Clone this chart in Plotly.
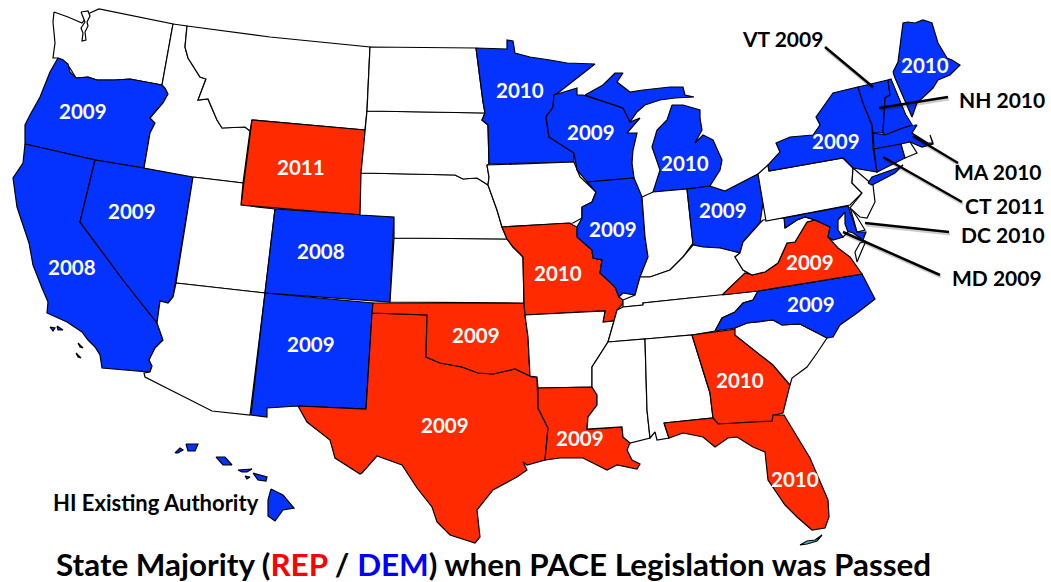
import plotly.graph_objects as go

BLUE = "#0433FF"
RED = "#FF2A00"
WHITE = "#FFFFFF"

WA = [(54,12),(68,17),(82,23),(90,13),(99,9),(173,24),(162,85),(130,79),(115,80),(97,80),(88,77),(76,78),(70,68),(63,60),(58,58),(53,58),(55,43),(53,22)]
PUGET = [(81,12),(88,11),(90,16),(87,22),(88,26),(85,32),(86,40),(82,41),(83,33),(81,28),(85,22),(83,17)]
OR = [(58,58),(63,60),(68,64),(70,72),(76,78),(88,77),(97,80),(115,80),(130,79),(162,85),(165,88),(168,94),(163,103),(150,118),(155,123),(150,133),(144,168),(95,160),(25,144),(25,125),(30,115),(40,97),(50,72)]
CA = [(25,144),(95,160),(80,222),(123,280),(157,323),(163,340),(155,348),(149,360),(152,366),(150,372),(102,368),(100,355),(95,347),(88,340),(82,332),(67,322),(47,313),(48,302),(42,288),(33,265),(29,243),(17,207),(13,178),(23,163)]
NV = [(95,160),(144,168),(193,177),(176,283),(173,297),(168,303),(160,301),(157,323),(123,280),(80,222)]
ID = [(173,24),(187,26),(185,47),(188,58),(200,77),(206,79),(198,100),(208,99),(217,120),(222,128),(245,127),(250,131),(243,183),(193,177),(144,168),(150,133),(155,123),(150,118),(163,103),(168,94),(165,88),(162,85)]
MT = [(187,26),(270,37),(370,47),(367,110),(365,130),(252,120),(250,131),(245,127),(222,128),(217,120),(208,99),(198,100),(206,79),(200,77),(188,58),(185,47)]
WY = [(252,120),(365,130),(360,215),(241,205)]
UT = [(193,177),(243,183),(241,205),(275,209),(265,293),(176,283)]
CO = [(275,209),(360,215),(394,217),(390,302),(265,293)]
AZ = [(176,283),(265,293),(250,415),(212,411),(145,377),(144,373),(150,372),(152,366),(149,360),(155,348),(163,340),(157,323),(160,301),(168,303),(173,297)]
NM = [(265,293),(373,303),(366,409),(298,406),(267,408),(267,417),(251,415)]
TX = [(298,406),(366,409),(372,313),(427,315),(426,357),(440,363),(462,367),(478,373),(493,374),(515,369),(532,377),(537,377),(538,408),(548,428),(545,460),(527,465),(523,462),(527,470),(517,477),(493,490),(477,510),(480,537),(475,543),(450,535),(437,522),(432,507),(417,488),(402,465),(377,456),(362,473),(360,474),(335,458),(330,440),(307,422)]
OK = [(373,303),(524,303),(525,315),(528,337),(530,376),(515,369),(493,374),(478,373),(462,367),(440,363),(426,357),(427,315),(372,313)]
KS = [(394,238),(507,239),(513,247),(523,257),(524,303),(390,302)]
NE = [(361,173),(455,175),(463,179),(477,178),(488,185),(497,210),(502,227),(507,239),(394,238),(394,217),(360,215)]
SD = [(367,111),(485,113),(482,120),(488,125),(489,164),(487,165),(489,177),(488,185),(477,178),(463,179),(455,175),(361,173)]
ND = [(370,47),(476,48),(483,102),(485,113),(367,111)]
MN = [(476,48),(507,49),(507,40),(513,41),(515,53),(530,57),(550,60),(567,63),(595,64),(558,93),(554,95),(553,107),(546,117),(549,137),(574,153),(574,162),(489,164),(488,125),(482,120),(485,113),(483,102)]
IA = [(487,165),(574,162),(580,177),(596,192),(592,202),(582,207),(582,218),(573,223),(502,227),(497,210),(488,185),(489,177)]
MO = [(502,227),(569,223),(577,227),(577,237),(592,250),(593,258),(602,260),(600,273),(615,287),(619,297),(623,300),(622,305),(617,310),(614,321),(603,322),(605,311),(525,315),(524,303),(523,257),(513,247),(507,239)]
AR = [(525,315),(605,311),(603,322),(614,321),(608,342),(600,355),(592,367),(592,387),(538,388),(537,377),(530,376),(528,337)]
LA = [(538,388),(592,387),(597,395),(597,405),(588,417),(587,429),(622,427),(623,437),(630,443),(627,450),(632,460),(640,464),(637,469),(617,465),(607,470),(593,463),(583,458),(560,458),(545,460),(548,428),(538,408)]
WI = [(554,95),(577,88),(577,95),(583,95),(623,108),(630,122),(640,118),(627,133),(637,133),(633,150),(632,163),(634,178),(587,182),(577,170),(574,153),(549,137),(546,117),(553,107)]
MI_UP = [(585,95),(603,85),(615,73),(623,73),(617,82),(630,92),(643,90),(670,87),(683,87),(685,95),(694,97),(675,98),(660,100),(645,105),(637,112),(630,122),(623,108)]
MI_LP = [(672,105),(683,105),(700,110),(700,118),(702,130),(695,143),(703,135),(713,140),(722,160),(720,170),(710,186),(687,189),(653,192),(660,170),(652,147),(657,130),(667,120)]
IL = [(587,182),(634,178),(642,197),(645,237),(648,257),(640,277),(635,295),(623,293),(619,297),(615,287),(600,273),(602,260),(593,258),(592,250),(577,237),(577,227),(582,218),(582,207),(592,202),(596,192)]
IN = [(642,197),(653,192),(687,189),(693,243),(683,257),(670,270),(650,277),(640,277),(648,257),(645,237)]
OH = [(687,189),(710,186),(725,191),(758,174),(763,203),(760,223),(743,242),(740,253),(720,248),(703,247),(693,245)]
KY = [(623,300),(635,295),(640,277),(650,277),(670,270),(683,257),(693,245),(703,247),(720,248),(740,253),(735,257),(743,270),(752,275),(723,295),(690,298),(643,303),(643,305),(623,307)]
TN = [(617,310),(623,307),(643,305),(643,303),(690,298),(722,295),(758,291),(753,300),(743,303),(735,312),(722,318),(715,331),(692,335),(645,339),(608,342),(614,321)]
MS = [(608,342),(645,339),(647,410),(650,438),(630,443),(623,437),(622,427),(587,429),(588,417),(597,405),(597,395),(592,387),(592,367),(600,355)]
AL = [(645,339),(692,335),(710,393),(713,418),(664,423),(669,438),(657,440),(655,432),(650,438),(647,410)]
GA = [(692,335),(737,329),(735,335),(773,365),(790,385),(783,413),(775,415),(772,423),(718,424),(713,418),(710,393)]
FL = [(664,423),(713,418),(718,424),(772,421),(773,415),(784,415),(810,458),(828,500),(829,517),(825,528),(812,530),(797,517),(785,505),(768,480),(765,452),(753,447),(737,437),(728,438),(715,447),(703,437),(683,433),(669,438)]
KEYS = [(800,545),(807,541),(815,540),(822,535),(817,541),(807,544)]
SC = [(735,328),(747,323),(773,320),(782,325),(800,324),(827,338),(817,353),(807,367),(792,378),(790,385),(773,365),(735,335)]
NC = [(715,331),(722,318),(735,312),(743,303),(753,300),(758,291),(862,274),(875,299),(857,313),(840,325),(833,337),(827,338),(800,324),(782,325),(773,320),(747,323),(735,328)]
VA = [(722,295),(758,291),(862,274),(850,257),(838,248),(828,237),(830,227),(815,220),(807,222),(795,242),(787,243),(778,263),(765,272),(752,275),(745,273)]
WV = [(763,220),(785,218),(785,228),(797,220),(805,217),(815,220),(807,222),(795,242),(787,243),(778,263),(765,272),(752,275),(743,270),(735,257),(740,253),(743,242),(760,223)]
PA = [(758,174),(768,165),(769,171),(843,158),(853,168),(852,183),(862,193),(850,205),(766,221),(763,203)]
MD = [(784,218),(848,206),(857,232),(866,232),(863,240),(853,233),(843,230),(843,237),(833,240),(828,237),(830,227),(815,220),(805,217),(797,220),(785,228)]
BAY = [(845,212),(838,220),(838,230),(843,237),(848,232),(845,224)]
DE = [(850,207),(857,217),(865,230),(857,232)]
VA_SHORE = [(866,241),(860,243),(855,252),(857,262),(862,250)]
NJ = [(853,168),(873,185),(875,202),(867,218),(860,217),(850,208),(862,193),(852,183)]
NY = [(769,171),(768,165),(780,152),(776,143),(790,137),(813,135),(820,125),(816,117),(833,93),(858,87),(863,103),(872,125),(873,148),(877,172),(853,168),(843,158)]
LI = [(868,183),(872,177),(900,167),(903,165),(895,173),(872,185)]
VT = [(858,87),(888,80),(889,87),(890,95),(885,98),(884,115),(883,133),(873,133),(872,125),(863,103)]
NH = [(888,80),(891,79),(906,115),(913,125),(903,128),(885,135),(883,133),(884,115),(885,98),(890,95),(889,87)]
ME = [(893,72),(898,62),(903,23),(908,22),(915,23),(923,20),(932,23),(938,43),(947,58),(952,60),(960,65),(950,75),(938,80),(933,88),(917,103),(912,117),(895,78)]
MA = [(873,133),(885,135),(903,128),(913,125),(917,125),(912,133),(928,143),(933,143),(930,135),(933,144),(922,147),(910,142),(903,145),(874,149)]
CT = [(874,149),(901,144),(905,158),(877,172)]
RI = [(901,144),(910,142),(917,153),(905,158)]
HI_NIIHAU = [(175,453),(180,448),(183,450),(178,453)]
HI_KAUAI = [(186,444),(198,444),(195,451),(188,451)]
HI_OAHU = [(216,457),(225,457),(232,465),(223,465)]
HI_MOLOKAI = [(238,470),(252,469),(247,472),(242,472)]
HI_LANAI = [(245,476),(250,477),(247,479)]
HI_MAUI = [(253,473),(267,477),(266,481),(258,480)]
HI_BIG = [(271,489),(283,495),(294,508),(283,510),(275,521),(268,516),(268,500)]
CI_1 = [(50,327),(55,328),(53,331)]
CI_2 = [(57,326),(63,330),(58,330)]
CI_3 = [(78,343),(83,348),(80,347)]
CI_4 = [(76,353),(81,358),(78,357)]

STATES = [
    ("Washington",WA,WHITE),("Puget Sound",PUGET,WHITE),("Oregon",OR,BLUE),("California",CA,BLUE),("Nevada",NV,BLUE),("Idaho",ID,WHITE),
    ("Montana",MT,WHITE),("Wyoming",WY,RED),("Utah",UT,WHITE),("Colorado",CO,BLUE),("Arizona",AZ,WHITE),
    ("New Mexico",NM,BLUE),("Texas",TX,RED),("Oklahoma",OK,RED),("Kansas",KS,WHITE),("Nebraska",NE,WHITE),
    ("South Dakota",SD,WHITE),("North Dakota",ND,WHITE),("Minnesota",MN,BLUE),("Iowa",IA,WHITE),("Missouri",MO,RED),
    ("Arkansas",AR,WHITE),("Louisiana",LA,RED),("Wisconsin",WI,BLUE),("Michigan",MI_UP,BLUE),("Michigan",MI_LP,BLUE),
    ("Illinois",IL,BLUE),("Indiana",IN,WHITE),("Ohio",OH,BLUE),("Kentucky",KY,WHITE),("Tennessee",TN,WHITE),
    ("Mississippi",MS,WHITE),("Alabama",AL,WHITE),("Georgia",GA,RED),("Florida",FL,RED),("Florida Keys",KEYS,"#5FB6C8"),("South Carolina",SC,WHITE),
    ("North Carolina",NC,BLUE),("Virginia",VA,RED),("West Virginia",WV,WHITE),("Pennsylvania",PA,WHITE),("Maryland",MD,BLUE),
    ("Chesapeake Bay",BAY,WHITE),("Delaware",DE,WHITE),("Virginia",VA_SHORE,WHITE),("New Jersey",NJ,WHITE),("New York",NY,BLUE),
    ("New York",LI,BLUE),("Vermont",VT,BLUE),("New Hampshire",NH,BLUE),("Maine",ME,BLUE),("Massachusetts",MA,BLUE),
    ("Connecticut",CT,BLUE),("Rhode Island",RI,WHITE),("Hawaii",HI_NIIHAU,BLUE),("Hawaii",HI_KAUAI,BLUE),("Hawaii",HI_OAHU,BLUE),
    ("Hawaii",HI_MOLOKAI,BLUE),("Hawaii",HI_LANAI,BLUE),("Hawaii",HI_MAUI,BLUE),("Hawaii",HI_BIG,BLUE),
    ("California",CI_1,BLUE),("California",CI_2,BLUE),("California",CI_3,BLUE),("California",CI_4,BLUE),
]

STATE_LABELS = ["2009","2008","2009","2011","2008","2009","2009","2009","2009","2010","2010","2009","2009","2010","2009","2009","2009","2010","2010","2009","2010"]
LABEL_X = [83,72,132,301,321,311,476,445,580,558,520,591,613,685,723,810,811,740,795,836,925]
LABEL_Y = [111,267,211,167,251,344,335,425,438,273,90,132,229,163,210,262,304,380,479,141,65]

CALLOUTS = ["VT 2009","NH 2010","MA 2010","CT 2011","DC 2010","MD 2009"]
CALLOUT_X = [782,1002,998,1005,1003,997]
CALLOUT_Y = [38,99,171,205,234,277]
LEADER_A = [(825,47),(948,97),(958,163),(962,202),(949,232),(940,275)]
LEADER_B = [(873,87),(879,108),(913,136),(883,157),(865,223),(843,232)]

fig = go.Figure()
for name, pts, colour in STATES:
    xs = [p[0] for p in pts] + [pts[0][0]]
    ys = [p[1] for p in pts] + [pts[0][1]]
    fig.add_trace(go.Scatter(x=xs, y=ys, mode="lines", fill="toself", fillcolor=colour,
                             line=dict(color="black", width=1.2), name=name,
                             hoverinfo="name", showlegend=False))

fig.add_trace(go.Scatter(x=[892,907,914], y=[76,113,125], mode="lines",
                         line=dict(color="white", width=2), hoverinfo="skip", showlegend=False))

for a, b in zip(LEADER_A, LEADER_B):
    fig.add_trace(go.Scatter(x=[a[0]+1,b[0]+1], y=[a[1]+2,b[1]+2], mode="lines",
                             line=dict(color="rgba(0,0,0,0.2)", width=3), hoverinfo="skip", showlegend=False))
    fig.add_trace(go.Scatter(x=[a[0],b[0]], y=[a[1],b[1]], mode="lines",
                             line=dict(color="black", width=2.5), hoverinfo="skip", showlegend=False))

anns = []
for t, x, y in zip(STATE_LABELS, LABEL_X, LABEL_Y):
    anns.append(dict(x=x, y=y, text=f"<b>{t}</b>", showarrow=False, font=dict(family="Lato", size=20.5, color="white")))
for t, x, y in zip(CALLOUTS, CALLOUT_X, CALLOUT_Y):
    anns.append(dict(x=x, y=y, text=f"<b>{t}</b>", showarrow=False, font=dict(family="Lato", size=21, color="black")))
anns.append(dict(x=156, y=502, text="<b>HI Existing Authority</b>", showarrow=False, font=dict(family="Lato", size=22, color="black")))
anns.append(dict(x=493, y=564,
                 text='<b>State Majority (<span style="color:#FF0000">REP</span> / <span style="color:#0000FF">DEM</span>) when PACE Legislation was Passed</b>',
                 showarrow=False, font=dict(family="Lato", size=31.4, color="black")))
for a in anns:
    a.update(xref="x", yref="y", xanchor="center", yanchor="middle")

fig.update_layout(
    width=1051, height=582, margin=dict(l=0, r=0, t=0, b=0),
    paper_bgcolor="white", plot_bgcolor="white", annotations=anns,
    xaxis=dict(range=[0,1051], visible=False, fixedrange=True),
    yaxis=dict(range=[582,0], visible=False, fixedrange=True),
)
fig.write_html("out.html", config=dict(displayModeBar=False),
               post_script="document.body.style.margin='0';document.body.style.overflow='hidden';")
